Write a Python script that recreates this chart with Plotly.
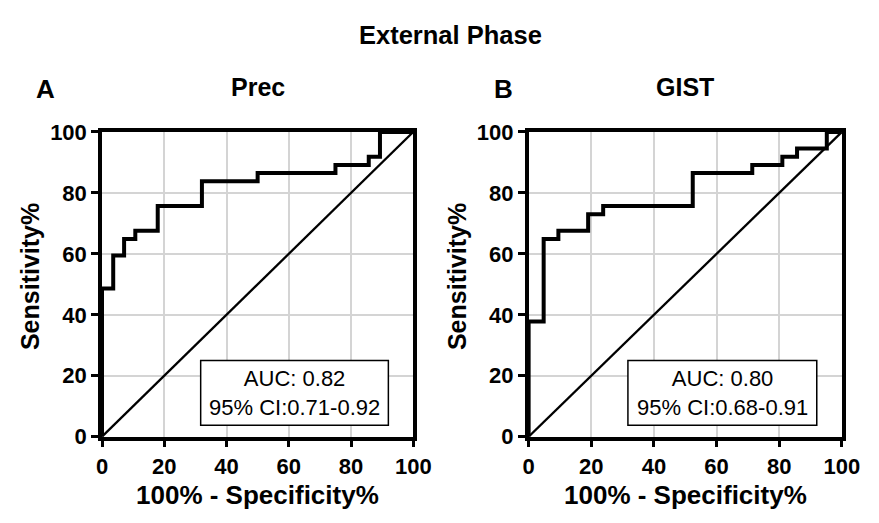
import plotly.graph_objects as go

# ---- data ----
prec_fpr = [0, 0, 3.6, 7.1, 10.7, 17.9, 32.1, 50.0, 75.0, 85.7, 89.3, 100]
prec_tpr = [0, 48.6, 59.5, 64.9, 67.6, 75.7, 83.8, 86.5, 89.2, 91.9, 100, 100]
gist_fpr = [0, 0, 4.8, 9.5, 19.0, 23.8, 52.4, 71.4, 81.0, 85.7, 95.2, 100]
gist_tpr = [0, 37.8, 64.9, 67.6, 73.0, 75.7, 86.5, 89.2, 91.9, 94.6, 100, 100]
ref_line = [0, 100]
tick_vals = [0, 20, 40, 60, 80, 100]
panel_letters = ["A", "B"]
panel_titles = ["Prec", "GIST"]
auc_text = ["AUC: 0.82", "AUC: 0.80"]
ci_text = ["95% CI:0.71-0.92", "95% CI:0.68-0.91"]

W, H = 879, 523
FONT = "Liberation Sans, Arial, Helvetica, sans-serif"


def px(x):
    return x / W


def py(y):
    return 1 - y / H


fig = go.Figure()

curves = [(prec_fpr, prec_tpr), (gist_fpr, gist_tpr)]
for i, (fx, fy) in enumerate(curves):
    xa = "x" if i == 0 else "x2"
    ya = "y" if i == 0 else "y2"
    fig.add_trace(go.Scatter(x=ref_line, y=ref_line, mode="lines",
                             line=dict(color="black", width=2.3),
                             xaxis=xa, yaxis=ya, showlegend=False,
                             cliponaxis=False, hoverinfo="skip"))
    fig.add_trace(go.Scatter(x=fx, y=fy, mode="lines",
                             line=dict(color="black", width=4, shape="hv"),
                             xaxis=xa, yaxis=ya, showlegend=False,
                             cliponaxis=False))

x_domains = [[98.7 / W, 418.7 / W], [537.3 / W, 859.3 / W]]
y_domain = [1 - 446 / H, 1 - 126 / H]

axis_common = dict(
    range=[0, 100], tickvals=tick_vals, ticks="outside", ticklen=7,
    tickwidth=3, tickcolor="black", showline=True, linewidth=3.5,
    linecolor="black", mirror=True, showgrid=True, gridcolor="#d4d4d4",
    gridwidth=1.5, zeroline=False, fixedrange=True,
    tickfont=dict(family=FONT, size=22, color="black", weight="bold"),
)

fig.update_layout(
    width=W, height=H,
    margin=dict(l=0, r=0, t=0, b=0),
    paper_bgcolor="white", plot_bgcolor="white",
    xaxis=dict(domain=x_domains[0], anchor="y", **axis_common),
    yaxis=dict(domain=y_domain, anchor="x", **axis_common),
    xaxis2=dict(domain=x_domains[1], anchor="y2", **axis_common),
    yaxis2=dict(domain=y_domain, anchor="x2", **axis_common),
)

ann = []
ann.append(dict(text="External Phase", x=px(457), y=py(24), xref="paper", yref="paper",
                showarrow=False, xanchor="center", yanchor="middle",
                font=dict(family=FONT, size=25.5, color="black", weight="bold")))

panel_centers = [258.7, 698.3]
letter_x = [41, 511]
ytitle_x = [24, 463]
for i in range(2):
    ann.append(dict(text=panel_letters[i], x=px(letter_x[i]), y=py(81), xref="paper", yref="paper",
                    showarrow=False, xanchor="center", yanchor="middle",
                    font=dict(family=FONT, size=26, color="black", weight="bold")))
    ann.append(dict(text=panel_titles[i], x=px(panel_centers[i]), y=py(79), xref="paper", yref="paper",
                    showarrow=False, xanchor="center", yanchor="middle",
                    font=dict(family=FONT, size=25, color="black", weight="bold")))
    ann.append(dict(text="100% - Specificity%", x=px(panel_centers[i]), y=py(507),
                    xref="paper", yref="paper", showarrow=False,
                    xanchor="center", yanchor="middle",
                    font=dict(family=FONT, size=26, color="black", weight="bold")))
    ann.append(dict(text="Sensitivity%", x=px(ytitle_x[i]), y=py(278), textangle=-90,
                    xref="paper", yref="paper", showarrow=False,
                    xanchor="center", yanchor="middle",
                    font=dict(family=FONT, size=25, color="black", weight="bold")))
    xr = "x" if i == 0 else "x2"
    yr = "y" if i == 0 else "y2"
    fig.add_shape(type="rect", xref=xr, yref=yr, x0=31.7, x1=92.0, y0=3.75, y1=25.0,
                  line=dict(color="black", width=1.5), fillcolor="white", layer="above")
    ann.append(dict(text=auc_text[i] + "<br>" + ci_text[i], x=61.8, y=14.4,
                    xref=xr, yref=yr, showarrow=False,
                    xanchor="center", yanchor="middle", align="center",
                    font=dict(family=FONT, size=22, color="black")))

fig.update_layout(annotations=ann)

fig.write_html("out.html")
